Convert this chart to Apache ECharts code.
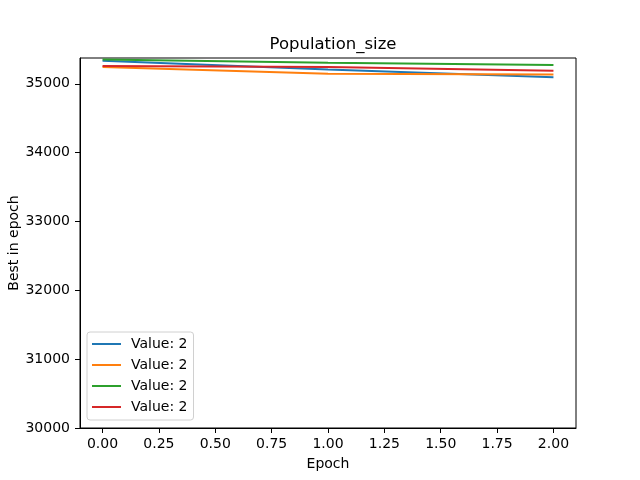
<!DOCTYPE html>
<html>
<head>
<meta charset="utf-8">
<script src="https://cdn.jsdelivr.net/npm/echarts@6/dist/echarts.min.js"></script>
<style>
  html, body { margin: 0; padding: 0; background: #fff; }
  #chart { width: 640px; height: 480px; }
</style>
</head>
<body>
<div id="chart"></div>
<script>
// data
const epochs = [0, 1, 2];
const legendLabels = ['Value: 2', 'Value: 2', 'Value: 2', 'Value: 2'];
const blueRun = [35334, 35208, 35097];
const orangeRun = [35243, 35145, 35135];
const greenRun = [35353, 35305, 35272];
const redRun = [35257, 35245, 35189];
const xTicks = [0, 0.25, 0.5, 0.75, 1, 1.25, 1.5, 1.75, 2];
const yTicks = [30000, 31000, 32000, 33000, 34000, 35000];

const runs = [blueRun, orangeRun, greenRun, redRun];
const colors = ['#1f77b4', '#ff7f0e', '#2ca02c', '#d62728'];
const font = 'DejaVu Sans';

const chart = echarts.init(document.getElementById('chart'));

const series = runs.map(function (run, i) {
    return {
        name: 's' + i,
        type: 'line',
        data: epochs.map(function (e, j) { return [e, run[j]]; }),
        showSymbol: false,
        symbol: 'none',
        lineStyle: { width: 2, color: colors[i] },
        itemStyle: { color: colors[i] },
        animation: false
    };
});

const option = {
    animation: false,
    title: {
        text: 'Population_size',
        left: 328,
        top: 31,
        textAlign: 'center',
        textStyle: { fontFamily: font, fontSize: 16.5, fontWeight: 'normal', color: '#000' }
    },
    grid: {
        left: 80, right: 64, top: 58, bottom: 52,
        outerBoundsMode: 'none',
        containLabel: false,
        show: true, borderColor: '#000', borderWidth: 1, backgroundColor: '#fff'
    },
    legend: {
        orient: 'vertical',
        left: 87,
        top: 332,
        data: series.map(function (s) { return s.name; }),
        formatter: function (name) { return legendLabels[Number(name.slice(1))]; },
        icon: 'rect',
        itemWidth: 29,
        itemHeight: 2,
        itemGap: 5,
        padding: [4, 6, 5, 5],
        borderColor: '#d0d0d0',
        borderWidth: 1,
        borderRadius: 3,
        backgroundColor: '#fff',
        textStyle: { fontFamily: font, fontSize: 14, color: '#000', padding: [0, 0, 0, 5], lineHeight: 16 }
    },
    xAxis: {
        type: 'value',
        min: -0.1,
        max: 2.1,
        name: 'Epoch',
        nameLocation: 'middle',
        nameGap: 29,
        nameMoveOverlap: false,
        nameTextStyle: { fontFamily: font, fontSize: 14, color: '#000' },
        axisLine: { show: true, onZero: false, lineStyle: { color: '#000' } },
        axisTick: { show: true, length: 5, customValues: xTicks, lineStyle: { color: '#000' } },
        axisLabel: {
            customValues: xTicks,
            fontFamily: font, fontSize: 14, color: '#000', margin: 9,
            formatter: function (v) { return v.toFixed(2); }
        },
        splitLine: { show: false }
    },
    yAxis: {
        type: 'value',
        min: 30000,
        max: 35375,
        name: 'Best in epoch',
        nameLocation: 'middle',
        nameGap: 59,
        nameMoveOverlap: false,
        nameTextStyle: { fontFamily: font, fontSize: 14, color: '#000' },
        axisLine: { show: true, onZero: false, lineStyle: { color: '#000' } },
        axisTick: { show: true, length: 5, customValues: yTicks, lineStyle: { color: '#000' } },
        axisLabel: {
            customValues: yTicks,
            fontFamily: font, fontSize: 14, color: '#000', margin: 10,
            formatter: function (v) { return String(v); }
        },
        splitLine: { show: false }
    },
    series: series
};

chart.setOption(option);
</script>
</body>
</html>
